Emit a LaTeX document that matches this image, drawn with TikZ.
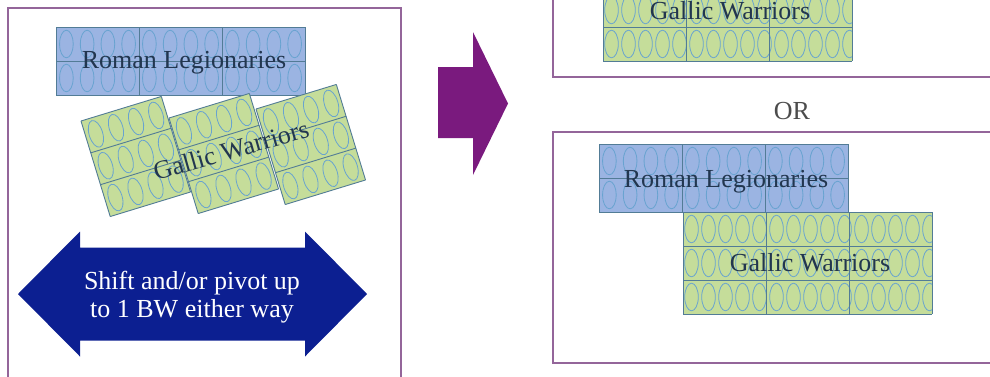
\documentclass[tikz,border=0pt]{standalone}
\usepackage{fontspec}
\setmainfont{Liberation Serif}
\definecolor{romanfill}{HTML}{9BB4E2}
\definecolor{gallfill}{HTML}{C5DD9A}
\definecolor{gridc}{HTML}{527C96}
\definecolor{ellc}{HTML}{68A3D0}
\definecolor{framec}{HTML}{94659A}
\definecolor{bluearr}{HTML}{0C1F91}
\definecolor{purparr}{HTML}{7A1A7E}
\definecolor{labelc}{HTML}{22364F}
\tikzset{
 frame/.style={draw=framec, line width=1.6pt},
 ell/.style={draw=ellc, line width=0.8pt},
 gridline/.style={draw=gridc, line width=0.9pt},
 lbl/.style={font=\fontsize{26}{28}\selectfont, text=labelc, inner sep=0pt},
}
% #1 scope opts, #2 cols, #3 rows, #4 fill, #5 ellipse spacing, #6 ellipses per row, #7 cell width, #8 row height
\newcommand\troop[8]{%
\begin{scope}[#1]
 \fill[#4] (0,0) rectangle ({#2*#7},{#3*#8});
 \begin{scope}
  \clip (0,0) rectangle ({#2*#7},{#3*#8});
  \foreach \r in {1,...,#3}{
    \foreach \e in {1,...,#6}{
      \draw[ell] ({#5*(\e-0.5)},{(\r-0.5)*#8}) ellipse [x radius=6.8, y radius=13.8];
    }
  }
 \end{scope}
 \foreach \c in {0,...,#2}{\draw[gridline] ({\c*#7},0) -- ({\c*#7},{#3*#8});}
 \foreach \r in {0,...,#3}{\draw[gridline] (0,{\r*#8}) -- ({#2*#7},{\r*#8});}
\end{scope}}
\begin{document}
\begin{tikzpicture}[x=1pt,y=-1pt]
\useasboundingbox (0,0) rectangle (990,376);
\clip (0,0) rectangle (990,376);
% frames
\draw[frame] (8,8) rectangle (401,380);
\draw[frame] (553,-10) rectangle (1000,77);
\draw[frame] (553,132) rectangle (1000,363);
% left panel
\troop{shift={(56,27)}}{3}{2}{romanfill}{20.75}{12}{83}{34}
\node[lbl] (rl1) at (184,63) {Roman Legionaries};
\troop{shift={(81,121)},rotate=17}{1}{3}{gallfill}{21}{4}{84}{33.3}
\troop{shift={(169,118)},rotate=17}{1}{3}{gallfill}{21}{4}{84}{33.3}
\troop{shift={(256,109)},rotate=17}{1}{3}{gallfill}{21}{4}{84}{33.3}
\node[lbl, rotate=16] (gw1) at (231,150) {Gallic Warriors};
\fill[bluearr] (18,294) -- (80,231.5) -- (80,247.5) -- (305,247.5) -- (305,231.5) -- (367,294) -- (305,356.5) -- (305,340.5) -- (80,340.5) -- (80,356.5) -- cycle;
\node[align=center, text=white, font=\fontsize{26}{28}\selectfont] (shift) at (192,297) {Shift and/or pivot up\\to 1 BW either way};
% purple arrow
\fill[purparr] (438,67) -- (473,67) -- (473,32) -- (508,103.5) -- (473,175) -- (473,138) -- (438,138) -- cycle;
% right top
\troop{shift={(603,-41)}}{3}{3}{gallfill}{17}{15}{83}{34}
\node[lbl] (gw2) at (730,11) {Gallic Warriors};
\node[font=\fontsize{26}{28}\selectfont, text=black!70] (or) at (792,111) {OR};
% right bottom
\troop{shift={(599,144)}}{3}{2}{romanfill}{20.75}{12}{83}{34}
\node[lbl] (rl2) at (726,182) {Roman Legionaries};
\troop{shift={(683,212)}}{3}{3}{gallfill}{17}{15}{83}{34}
\node[lbl] (gw3) at (810,263) {Gallic Warriors};
\end{tikzpicture}
\end{document}
